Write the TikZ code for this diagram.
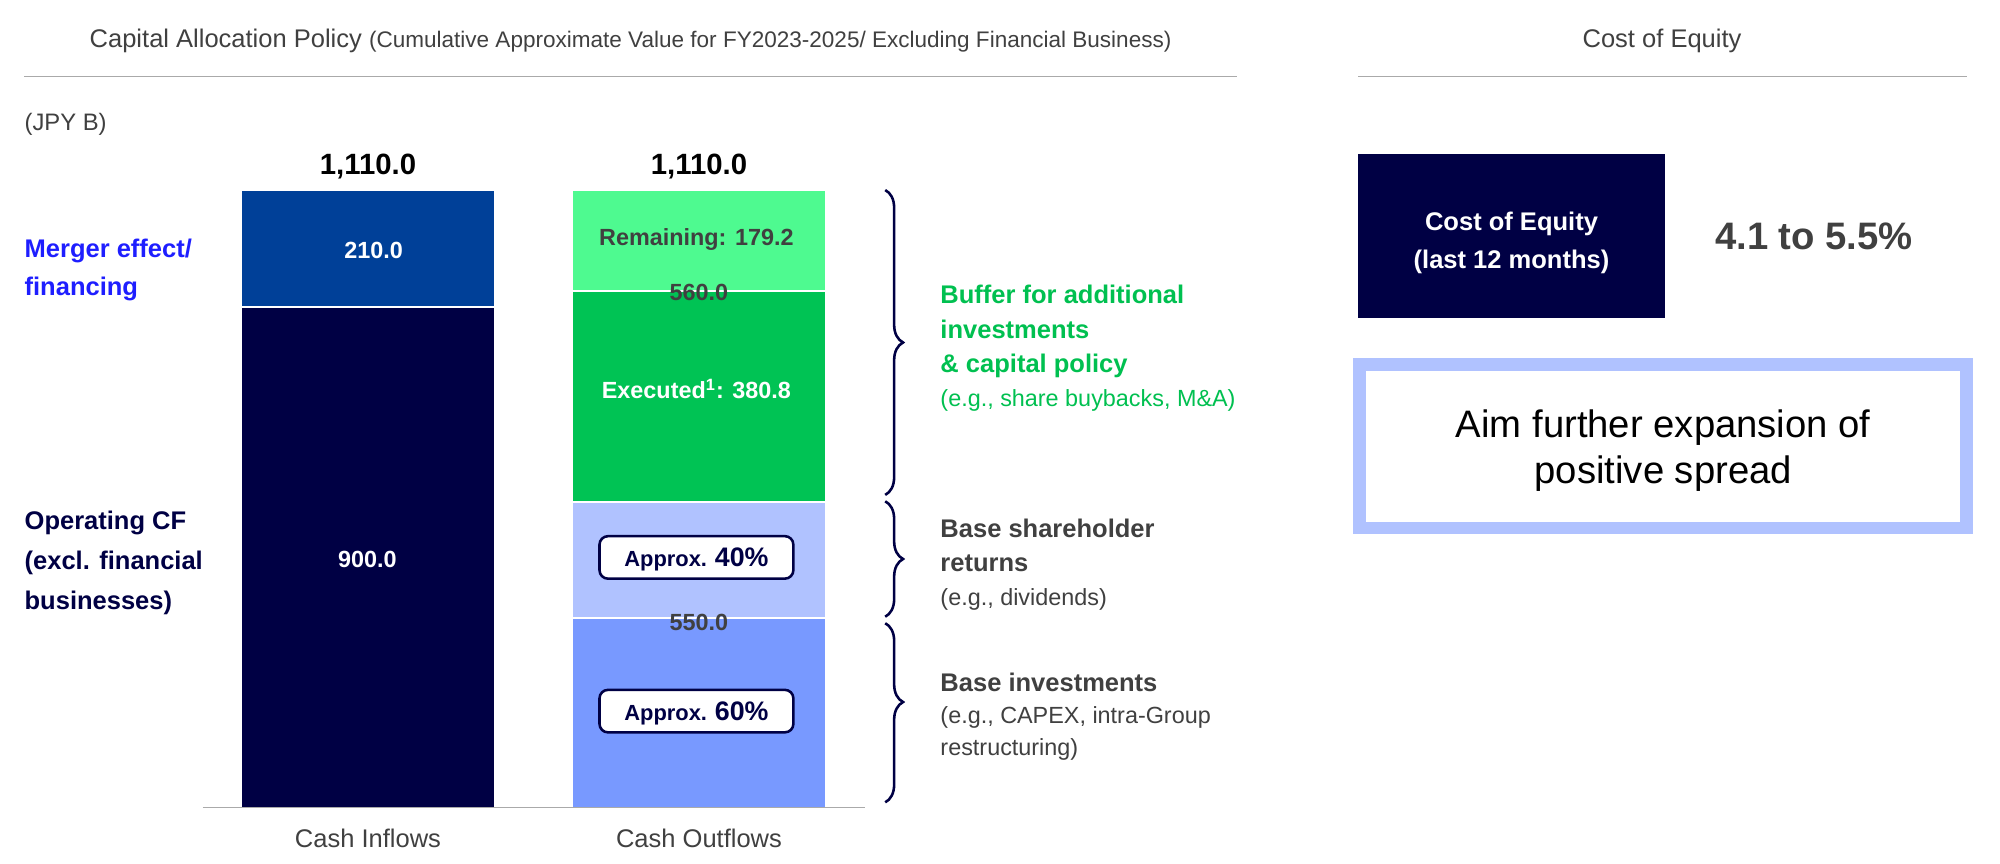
\documentclass[tikz,border=0pt]{standalone}
\usepackage{fontspec}
\setmainfont{Liberation Sans}
\usetikzlibrary{positioning,decorations.pathreplacing}

\definecolor{navy}{RGB}{0,0,68}
\definecolor{mergerblue}{RGB}{0,64,152}
\definecolor{remaingreen}{RGB}{78,250,144}
\definecolor{execgreen}{RGB}{0,195,84}
\definecolor{lavender}{RGB}{176,194,255}
\definecolor{baseblue}{RGB}{120,153,255}
\definecolor{textgray}{RGB}{64,64,64}
\definecolor{rulegray}{RGB}{170,170,170}
\definecolor{labelblue}{RGB}{30,30,255}
\definecolor{labelgreen}{RGB}{0,192,80}

\newcommand\notefont{\fontsize{11}{15.4}\selectfont\mdseries}
\newcommand\approxtext[1]{{\fontsize{10.3}{12}\selectfont Approx.} {\fontsize{12.6}{14}\selectfont #1\%}}

\tikzset{
    x=0.6pt,
    y=-0.6pt,
    every node/.style = {inner sep=0pt},
    heading/.style = {
        text=textgray,
        font=\fontsize{12}{14}\selectfont
    },
    total/.style = {
        anchor=base,
        font=\fontsize{13.8}{16}\selectfont\bfseries
    },
    amount/.style = {
        anchor=base,
        font=\fontsize{11}{13}\selectfont\bfseries
    },
    sidelabel/.style = {
        anchor=north west,
        align=left,
        font=\fontsize{12}{17.6}\selectfont\bfseries
    },
    approxbox/.style = {
        draw=navy,
        fill=white,
        text=navy,
        line width=1.2pt,
        rounded corners=4pt,
        minimum width=91.2pt,
        minimum height=20pt,
        text depth=0pt,
        font=\bfseries
    },
    coebox/.style = {
        fill=navy,
        minimum width=144pt,
        minimum height=76.8pt
    },
    coetext/.style = {
        text=white,
        align=center,
        font=\fontsize{12}{17.5}\selectfont\bfseries
    },
    spreadbox/.style = {
        draw=lavender,
        line width=6pt,
        minimum width=285.6pt,
        minimum height=76.8pt
    },
    spreadtext/.style = {
        align=center,
        font=\fontsize{18}{21.4}\selectfont
    },
    rule/.style = {
        draw=rulegray,
        line width=0.9pt
    },
    gap/.style = {
        draw=white,
        line width=0.9pt
    },
    brace/.style = {
        draw=navy,
        line width=1.2pt,
        decorate,
        decoration={brace, amplitude=8.4pt}
    },
}

\begin{document}
\begin{tikzpicture}
    \path[use as bounding box, fill=white] (0,0) rectangle (1568,677);

    % headings and rules
    \node[heading, anchor=base west] (title) at (70,37) {Capital Allocation Policy {\fontsize{10.6}{13}\selectfont (Cumulative Approximate Value for FY2023-2025/ Excluding Financial Business)}};
    \node[heading, anchor=base] (coetitle) at (1303,37) {Cost of Equity};
    \draw[rule] (19,60) -- (970,60);
    \draw[rule] (1065,60) -- (1542,60);
    \node[heading, anchor=base west, font=\fontsize{11.2}{13}\selectfont] (unit) at (19,102) {(JPY B)};

    % bars
    \fill[mergerblue] (190,150) rectangle (387,241);
    \fill[navy] (190,241) rectangle (387,633);
    \draw[gap] (190,241) -- (387,241);
    \fill[remaingreen] (449,150) rectangle (647,228);
    \fill[execgreen] (449,228) rectangle (647,393.5);
    \fill[lavender] (449,393.5) rectangle (647,484.6);
    \fill[baseblue] (449,484.6) rectangle (647,633);
    \foreach \ya in {228,393.5,484.6}
        \draw[gap] (449,\ya) -- (647,\ya);
    \draw[rule, line width=0.8pt] (159,633) -- (678,633);

    \node[total] (intotal) at (288.5,136.8) {1,110.0};
    \node[total] (outtotal) at (548,136.8) {1,110.0};

    \node[amount, text=white] (merger) at (293,202.6) {210.0};
    \node[amount, text=white] (opcf) at (288,444.6) {900.0};
    \node[amount, text=textgray] (remain) at (546,192.2) {Remaining: 179.2};
    \node[amount, text=textgray] (buffer) at (548,235.3) {560.0};
    \node[amount, text=white] (exec) at (546,312.4) {Executed\textsuperscript{1}: 380.8};
    \node[amount, text=textgray] (base) at (548,494.6) {550.0};
    \node[approxbox] (approx40) at (546,437) {\approxtext{40}};
    \node[approxbox] (approx60) at (546,557.5) {\approxtext{60}};

    \node[heading, anchor=base] (inflows) at (288.5,664.2) {Cash Inflows};
    \node[heading, anchor=base] (outflows) at (548,664.2) {Cash Outflows};

    % left labels
    \node[sidelabel, text=labelblue] (mergerlabel) at (19,187.2) {Merger effect/\\financing};
    \node[sidelabel, text=navy, font=\fontsize{12}{18.8}\selectfont\bfseries] (oplabel) at (19,400.3) {Operating CF\\(excl. financial\\businesses)};

    % braces
    \foreach \ya/\yb/\asp in {149/388/0.5, 393/483.5/0.5, 488.6/629/0.44}
        \draw[brace, decoration={aspect=\asp}] (694,\ya) -- (694,\yb);

    \node[sidelabel, text=labelgreen, font=\fontsize{12}{16.2}\selectfont\bfseries] (bufferlabel) at (737,223.2) {Buffer for additional\\investments\\\& capital policy\\{\notefont (e.g., share buybacks, M\&A)}};
    \node[sidelabel, text=textgray, font=\fontsize{12}{16}\selectfont\bfseries] (returnlabel) at (737,406.6) {Base shareholder\\returns\\{\notefont (e.g., dividends)}};
    \node[sidelabel, text=textgray, font=\fontsize{12}{15}\selectfont\bfseries] (investlabel) at (737,527.6) {Base investments\\{\notefont (e.g., CAPEX, intra-Group}\\{\notefont restructuring)}};

    % cost of equity
    \node[coebox] (coebox) at (1185,185) {};
    \node[coetext] (coelabel) at ([yshift=-3.3pt]coebox.center) {Cost of Equity\\(last 12 months)};
    \node[text=textgray, font=\fontsize{18}{21}\selectfont\bfseries, right=23.4pt of coebox] (coevalue) {4.1 to 5.5\%};
    \node[spreadbox] (spread) at (1304,350) {};
    \node[spreadtext] (spreadlabel) at ([yshift=-2pt]spread.center) {Aim further expansion of\\positive spread};
\end{tikzpicture}
\end{document}
